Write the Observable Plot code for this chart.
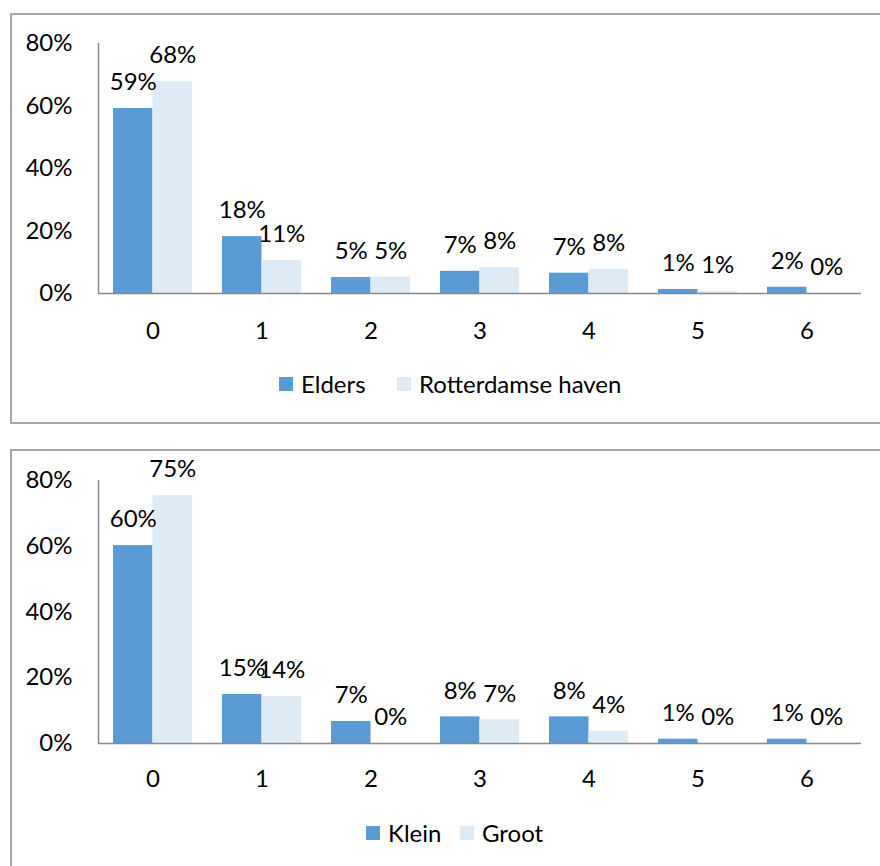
<!DOCTYPE html>
<html><head><meta charset="utf-8">
<script src="https://cdn.jsdelivr.net/npm/d3@7"></script>
<script src="https://cdn.jsdelivr.net/npm/@observablehq/plot@0.6"></script>
<style>
body{margin:0;background:#fff;font-family:Lato,"Open Sans",sans-serif;}
.panel{position:absolute;left:10px;width:900px;border:2px solid #a6a6a6;box-sizing:border-box;}
.chart{position:absolute;left:0;}
.item{position:absolute;display:flex;align-items:center;font-size:24px;color:#000;line-height:28px;}
.sw{display:inline-block;width:14px;height:14px;margin-right:8px;}
</style></head>
<body>
<div class="panel" style="top:13px;height:411px"></div>
<div class="panel" style="top:449px;height:500px"></div>
<div id="c1" class="chart" style="top:0px"></div>
<div id="c2" class="chart" style="top:436px"></div>
<div class="item" style="left:279px;top:370px"><span class="sw" style="background:#5B9BD5"></span>Elders</div>
<div class="item" style="left:397px;top:370px"><span class="sw" style="background:#DDEBF7"></span>Rotterdamse haven</div>
<div class="item" style="left:366px;top:819px"><span class="sw" style="background:#5B9BD5"></span>Klein</div>
<div class="item" style="left:460px;top:819px"><span class="sw" style="background:#DDEBF7"></span>Groot</div>
<script>
const categories = [0, 1, 2, 3, 4, 5, 6];
const yTicks = [0, 20, 40, 60, 80];
const seriesColors = ["#5B9BD5", "#DDEBF7"];
// Chart 1
const series1 = ["Elders", "Rotterdamse haven"];
const elders = [59.2, 18.2, 5.1, 7.1, 6.5, 1.3, 2.0];
const rotterdam = [67.8, 10.6, 5.3, 8.3, 7.7, 0.6, 0];
// Chart 2
const series2 = ["Klein", "Groot"];
const klein = [60.2, 14.9, 6.7, 8.1, 8.1, 1.3, 1.3];
const groot = [75.4, 14.3, 0, 7.2, 3.7, 0, 0];

const barW = 0.3624;
function rows(names, a, b) {
  const out = [];
  categories.forEach((c, i) => {
    out.push({cat: c, s: names[0], v: a[i], x1: c - barW, x2: c, xc: c - barW / 2, k: 0});
    out.push({cat: c, s: names[1], v: b[i], x1: c, x2: c + barW, xc: c + barW / 2, k: 1});
  });
  return out;
}
function make(data, opts) {
  return Plot.plot({
    width: 880,
    height: opts.height,
    marginLeft: 98,
    marginRight: 19,
    marginTop: opts.mt,
    marginBottom: opts.mb,
    style: {fontFamily: "Lato, 'Open Sans', sans-serif", fontSize: "24px", color: "#000", background: "transparent", overflow: "visible"},
    x: {domain: [-0.5, 6.5], ticks: categories, tickFormat: d => String(d), tickSize: 0, tickPadding: opts.xpad, label: null},
    y: {domain: [0, 80], ticks: yTicks, tickFormat: d => d + "%", tickSize: 0, tickPadding: 26, label: null},
    color: {domain: [0, 1], range: seriesColors},
    marks: [
      Plot.rectY(data, {x1: "x1", x2: "x2", y1: 0, y2: "v", fill: d => d.k}),
      Plot.ruleY([0], {stroke: "#898989", strokeWidth: 1.5}),
      Plot.ruleX([-0.5], {y1: 0, y2: 80, stroke: "#898989", strokeWidth: 1.5}),
      Plot.text(data, {x: "xc", y: "v", text: d => Math.round(d.v) + "%", dy: -26, fill: "#000", fontSize: 24})
    ]
  });
}
document.getElementById("c1").append(make(rows(series1, elders, rotterdam), {height: 350, mt: 43, mb: 57, xpad: 28}));
document.getElementById("c2").append(make(rows(series2, klein, groot), {height: 360, mt: 44, mb: 53, xpad: 26}));
</script>
</body></html>
